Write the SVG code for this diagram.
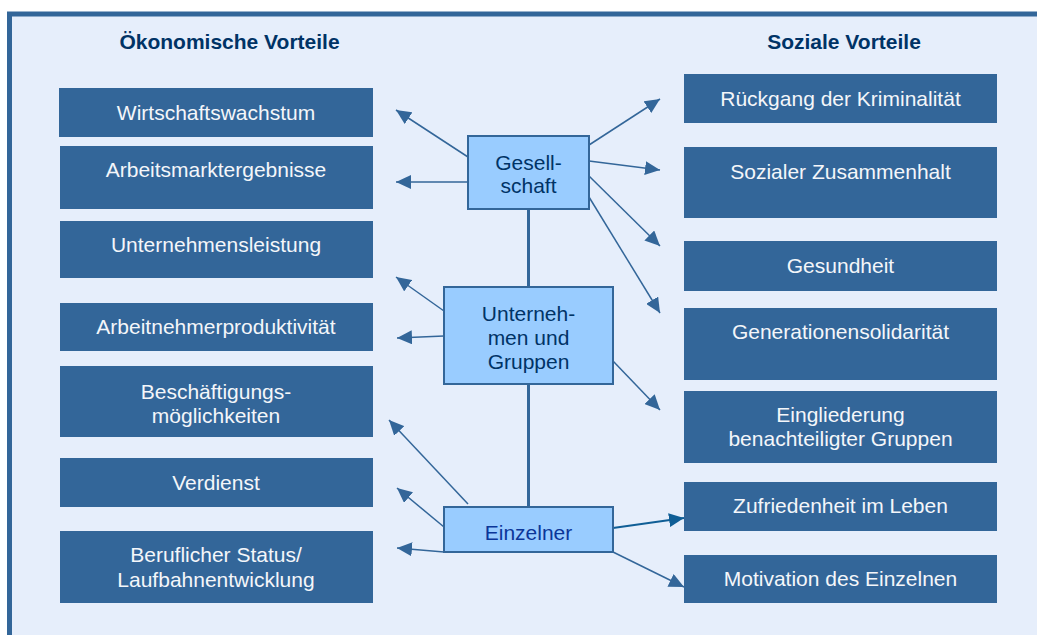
<svg xmlns="http://www.w3.org/2000/svg" width="1037" height="635" viewBox="0 0 1037 635">
<style>
.bx{fill:#336699}
.bt{font-family:"Liberation Sans",Arial,sans-serif;font-size:21px;fill:#F4F6FA;text-anchor:middle}
.hd{font-family:"Liberation Sans",Arial,sans-serif;font-size:21px;font-weight:bold;fill:#003366;text-anchor:middle}
.cb{fill:#99CCFF;stroke:#336699;stroke-width:2}
.ct{font-family:"Liberation Sans",Arial,sans-serif;font-size:21px;fill:#003366;text-anchor:middle}
.ar{stroke:#336699;stroke-width:1.5;fill:none;marker-end:url(#ah)}
.ln{stroke:#336699;stroke-width:3;fill:none}
</style>
<defs>
<marker id="ah" markerUnits="userSpaceOnUse" markerWidth="16" markerHeight="14" refX="15" refY="7" orient="auto"><path d="M0,0 L15,7 L0,14 z" fill="#336699"/></marker>
<marker id="ah2" markerUnits="userSpaceOnUse" markerWidth="16" markerHeight="14" refX="15" refY="7" orient="auto"><path d="M0,0 L15,7 L0,14 z" fill="#0F5E96"/></marker>
</defs>
<rect x="0" y="0" width="1037" height="635" fill="#FFFFFF"/>
<rect x="9.5" y="14" width="1040" height="640" fill="#E6EEFB" stroke="#336699" stroke-width="5"/>
<text class="hd" x="229.5" y="49">Ökonomische Vorteile</text>
<text class="hd" x="844" y="49">Soziale Vorteile</text>

<g id="connectors">
<line class="ln" x1="528.5" y1="209" x2="528.5" y2="287"/>
<line class="ln" x1="528.5" y1="384" x2="528.5" y2="507"/>
<line class="ar" x1="468" y1="157" x2="396" y2="110"/>
<line class="ar" x1="468" y1="182" x2="396" y2="182"/>
<line class="ar" x1="444" y1="311" x2="396" y2="277"/>
<line class="ar" x1="444" y1="336" x2="397" y2="338"/>
<line class="ar" x1="468" y1="504" x2="389" y2="420"/>
<line class="ar" x1="444" y1="527" x2="397" y2="488"/>
<line class="ar" x1="444" y1="552" x2="397" y2="548"/>
<line class="ar" x1="589" y1="145" x2="660" y2="99"/>
<line class="ar" x1="589" y1="161" x2="660" y2="170"/>
<line class="ar" x1="589" y1="176" x2="660" y2="246"/>
<line class="ar" x1="589" y1="197" x2="660" y2="313"/>
<line class="ar" x1="613" y1="361" x2="660" y2="410"/>
<line x1="613" y1="528" x2="684" y2="518" stroke="#0F5E96" stroke-width="2.2" marker-end="url(#ah2)"/>
<line class="ar" x1="613" y1="552" x2="684" y2="587"/>
</g>

<g id="n-wirtschaft"><rect class="bx" x="59" y="88" width="314" height="49"/><text class="bt" x="216" y="120">Wirtschaftswachstum</text></g>
<g id="n-arbeitsmarkt"><rect class="bx" x="60" y="146" width="313" height="63"/><text class="bt" x="216" y="177">Arbeitsmarktergebnisse</text></g>
<g id="n-unternehmensleistung"><rect class="bx" x="60" y="221" width="313" height="57"/><text class="bt" x="216" y="252">Unternehmensleistung</text></g>
<g id="n-produktivitaet"><rect class="bx" x="60" y="303" width="313" height="48"/><text class="bt" x="216" y="334">Arbeitnehmerproduktivität</text></g>
<g id="n-beschaeftigung"><rect class="bx" x="60" y="366" width="313" height="71"/><text class="bt" x="216" y="399">Beschäftigungs-</text><text class="bt" x="216" y="423">möglichkeiten</text></g>
<g id="n-verdienst"><rect class="bx" x="60" y="458" width="313" height="49"/><text class="bt" x="216" y="490">Verdienst</text></g>
<g id="n-status"><rect class="bx" x="60" y="531" width="313" height="72"/><text class="bt" x="216" y="562">Beruflicher Status/</text><text class="bt" x="216" y="587">Laufbahnentwicklung</text></g>

<g id="n-kriminalitaet"><rect class="bx" x="684" y="74" width="313" height="49"/><text class="bt" x="840.5" y="106">Rückgang der Kriminalität</text></g>
<g id="n-zusammenhalt"><rect class="bx" x="684" y="147" width="313" height="71"/><text class="bt" x="840.5" y="179">Sozialer Zusammenhalt</text></g>
<g id="n-gesundheit"><rect class="bx" x="684" y="241" width="313" height="50"/><text class="bt" x="840.5" y="273">Gesundheit</text></g>
<g id="n-solidaritaet"><rect class="bx" x="684" y="308" width="313" height="72"/><text class="bt" x="840.5" y="339">Generationensolidarität</text></g>
<g id="n-eingliederung"><rect class="bx" x="684" y="391" width="313" height="72"/><text class="bt" x="840.5" y="422">Eingliederung</text><text class="bt" x="840.5" y="446">benachteiligter Gruppen</text></g>
<g id="n-zufriedenheit"><rect class="bx" x="684" y="482" width="313" height="49"/><text class="bt" x="840.5" y="513">Zufriedenheit im Leben</text></g>
<g id="n-motivation"><rect class="bx" x="684" y="555" width="313" height="48"/><text class="bt" x="840.5" y="586">Motivation des Einzelnen</text></g>

<g id="n-gesellschaft"><rect class="cb" x="468" y="136" width="121" height="73"/><text class="ct" x="528.5" y="170">Gesell-</text><text class="ct" x="528.5" y="193">schaft</text></g>
<g id="n-unternehmen"><rect class="cb" x="444" y="287" width="169" height="97"/><text class="ct" x="528.5" y="321">Unterneh-</text><text class="ct" x="528.5" y="345">men und</text><text class="ct" x="528.5" y="369">Gruppen</text></g>
<g id="n-einzelner"><rect class="cb" x="444" y="507" width="169" height="45"/><text class="ct" x="528.5" y="540" fill="#003399" style="fill:#0B3699">Einzelner</text></g>
</svg>
